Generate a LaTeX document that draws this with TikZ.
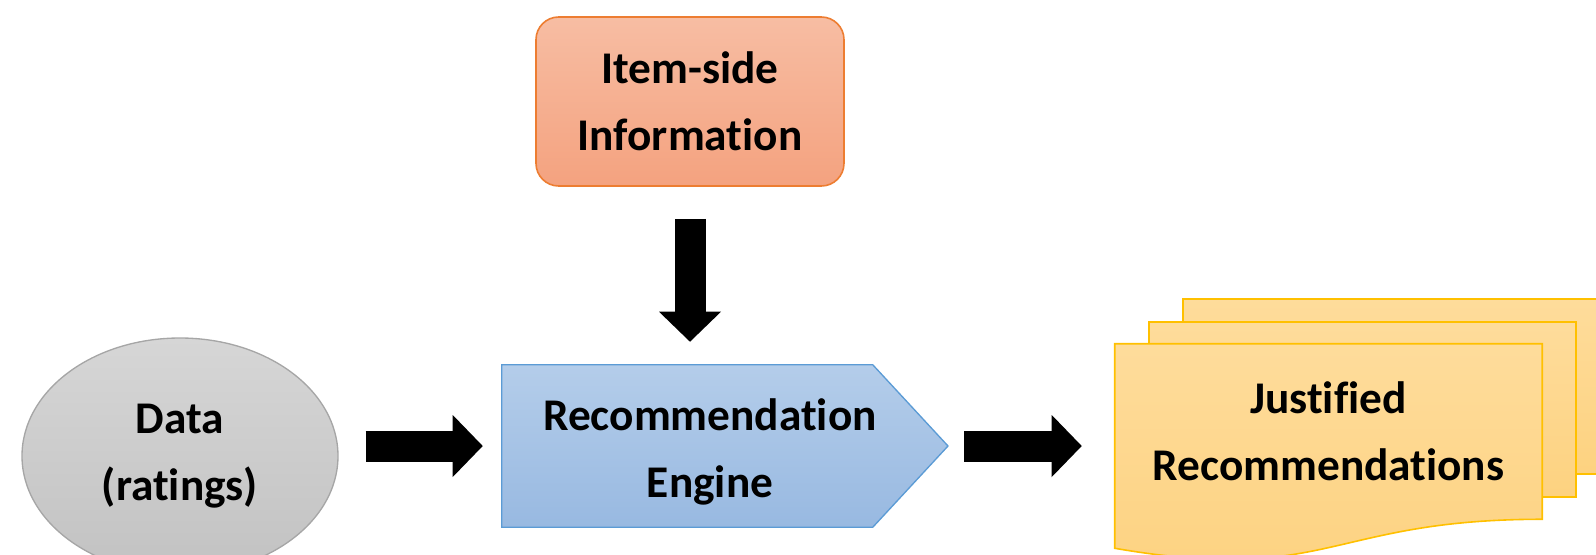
\documentclass[tikz,border=0pt]{standalone}
\usepackage{fontspec}
\setmainfont{Carlito}[RawFeature=-liga]
\usetikzlibrary{shapes.geometric,arrows.meta,calc}
\definecolor{grayTop}{HTML}{D6D6D6}
\definecolor{grayBot}{HTML}{C2C2C2}
\definecolor{grayLine}{HTML}{A6A6A6}
\definecolor{salTop}{HTML}{F7BDA3}
\definecolor{salBot}{HTML}{F4A27F}
\definecolor{salLine}{HTML}{ED7D31}
\definecolor{bluTop}{HTML}{B4CDEA}
\definecolor{bluBot}{HTML}{98B9E1}
\definecolor{bluLine}{HTML}{5B9BD5}
\definecolor{docTop}{HTML}{FEDC9B}
\definecolor{docBot}{HTML}{FDD280}
\definecolor{docLine}{HTML}{FFC000}
% all lengths below: 1 px of the 1596 px wide layout = 0.75pt
\tikzset{
  lbl/.style={font=\fontsize{34}{50}\selectfont\bfseries, align=center, text=black, inner sep=0pt},
  datanode/.style={lbl, ellipse, draw=grayLine, line width=1pt, top color=grayTop, bottom color=grayBot,
    minimum width=237pt, minimum height=177pt},
  infobox/.style={lbl, rectangle, rounded corners=17pt, draw=salLine, line width=1.2pt,
    top color=salTop, bottom color=salBot, minimum width=231pt, minimum height=126.75pt},
  enginebox/.style={lbl, rectangle, minimum width=312pt, minimum height=121.5pt},
  enginefill/.style={draw=bluLine, line width=1pt, top color=bluTop, bottom color=bluBot},
  docbox/.style={lbl, rectangle, minimum width=320.25pt, minimum height=131.25pt},
  docfill/.style={draw=docLine, line width=1.2pt, top color=docTop, bottom color=docBot},
  blockarr/.style={line width=23.25pt, black,
    -{Triangle[length=22.5pt, width=46.5pt, line width=0pt]}},
}
\begin{document}
\begin{tikzpicture}[x=0.75pt, y=-0.75pt]
\useasboundingbox (0,0) rectangle (1596,554);
\clip (0,0) rectangle (1596,554);

% nodes (text holders)
\node[datanode] (data) at (180,456) {Data\\(ratings)};
\node[infobox] (item) at (690,101.5) {Item-side\\Information};
\node[enginebox] (engine) at (710,446) {};
\node[docbox] (recs) at (1328.5,431.5) {};

% engine pentagon
\coordinate (tip) at ($(engine.center)+(238,0)$);
\path[enginefill] (engine.north west) -- ($(engine.north west)+(371,0)$) -- (tip)
  -- ($(engine.south west)+(371,0)$) -- (engine.south west) -- cycle;
\node[lbl] at ($(engine.center)+(0,6)$) {Recommendation\\Engine};

% stacked documents
\path[docfill] ($(recs.north west)+(68,-45)$) rectangle ($(recs.south east)+(68,-45)$);
\path[docfill] ($(recs.north west)+(34,-22)$) rectangle ($(recs.south east)+(34,-22)$);
\path[docfill] (recs.north west) -- (recs.north east) -- (recs.south east)
  .. controls (recs.south) and ($(recs.south)+(0,66)$) .. ($(recs.south west)+(0,29)$) -- cycle;
\node[lbl] at (recs.center) {Justified\\Recommendations};

% block arrows
\draw[blockarr, shorten <=20.25pt, shorten >=14.25pt] (engine.west -| data.east) -- (engine.west);
\draw[blockarr, shorten <=24pt, shorten >=17.25pt] (item.south) -- (item.south |- engine.north);
\draw[blockarr, shorten <=12pt, shorten >=24.75pt] (tip) -- (tip -| recs.west);
\end{tikzpicture}
\end{document}
